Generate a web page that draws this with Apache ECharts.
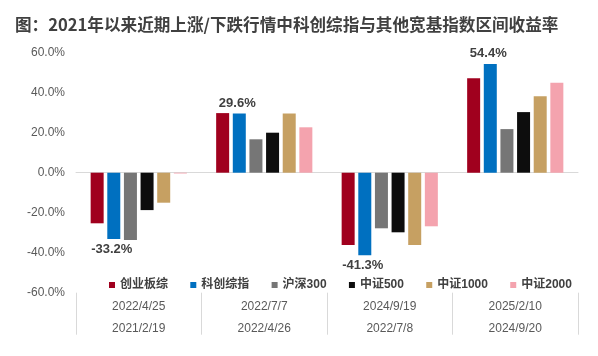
<!DOCTYPE html>
<html>
<head>
<meta charset="utf-8">
<script src="https://cdn.jsdelivr.net/npm/echarts@6/dist/echarts.min.js"></script>
<style>
html,body{margin:0;padding:0;background:#fff;}
#c{width:598px;height:356px;}
</style>
</head>
<body>
<div id="c"></div>
<script>
const titleText = '图：2021年以来近期上涨/下跌行情中科创综指与其他宽基指数区间收益率';
const categories = ['2022/4/25\n2021/2/19', '2022/7/7\n2022/4/26', '2024/9/19\n2022/7/8', '2025/2/10\n2024/9/20'];
const seriesNames = ['创业板综', '科创综指', '沪深300', '中证500', '中证1000', '中证2000'];
const cybz = [-25.3, 29.8, -36.2, 47.2];
const kczz = [-33.2, 29.6, -41.3, 54.4];
const hs300 = [-33.6, 16.7, -27.8, 21.8];
const zz500 = [-18.7, 20.0, -29.8, 30.3];
const zz1000 = [-15.0, 29.6, -36.2, 38.2];
const zz2000 = [-0.4, 22.7, -26.8, 45.0];
const yTicks = [-60, -40, -20, 0, 20, 40, 60];
const labeledSeries = '科创综指';

const colors = ['#A0001E', '#0070C0', '#767676', '#0D0D0D', '#C6A062', '#F4A3AE'];
const FONT = "'Liberation Sans', 'Noto Sans CJK SC', sans-serif";
const values = [cybz, kczz, hs300, zz500, zz1000, zz2000];

const series = seriesNames.map((name, i) => ({
  name: name,
  type: 'bar',
  xAxisIndex: 0,
  barWidth: 13,
  barGap: '28%',
  itemStyle: { color: colors[i] },
  data: values[i].map(v => name === labeledSeries ? {
    value: v,
    label: {
      show: true,
      position: v < 0 ? 'bottom' : 'top',
      distance: 4,
      offset: [-2, 0],
      formatter: p => p.value.toFixed(1) + '%',
      fontFamily: FONT,
      fontSize: 13,
      fontWeight: 'bold',
      color: '#404040'
    }
  } : v)
}));

const chart = echarts.init(document.getElementById('c'), null, { renderer: 'canvas' });
chart.setOption({
  animation: false,
  backgroundColor: '#ffffff',
  title: {
    text: titleText,
    left: 10,
    top: 11,
    textStyle: { fontFamily: "'Noto Sans CJK SC', sans-serif", fontSize: 16.6, fontWeight: 'bold', color: '#404040' }
  },
  legend: {
    data: seriesNames,
    left: 104,
    top: 274,
    itemWidth: 6,
    itemHeight: 6,
    itemGap: 22.3,
    icon: 'rect',
    textStyle: { fontFamily: FONT, fontSize: 12, fontWeight: 'bold', color: '#404040' }
  },
  grid: { left: 76, right: 20, top: 52.7, bottom: 63.3 },
  xAxis: [
    {
      type: 'category',
      data: categories,
      axisLine: { show: true, onZero: true, lineStyle: { color: '#D9D9D9', width: 1 } },
      axisTick: { show: false },
      axisLabel: { show: false },
      splitLine: { show: false }
    },
    {
      type: 'category',
      data: categories,
      position: 'bottom',
      axisLine: { show: false, onZero: false },
      axisTick: { show: true, length: 42, lineStyle: { color: '#D9D9D9' } },
      axisLabel: { show: true, margin: 3, lineHeight: 22, fontFamily: FONT, fontSize: 12, color: '#595959' },
      splitLine: { show: false }
    }
  ],
  yAxis: {
    type: 'value',
    min: yTicks[0],
    max: yTicks[yTicks.length - 1],
    interval: 20,
    axisLine: { show: false },
    axisTick: { show: false },
    splitLine: { show: false },
    axisLabel: { margin: 11, fontFamily: FONT, fontSize: 12, color: '#595959', formatter: v => v.toFixed(1) + '%' }
  },
  series: series
});
</script>
</body>
</html>
